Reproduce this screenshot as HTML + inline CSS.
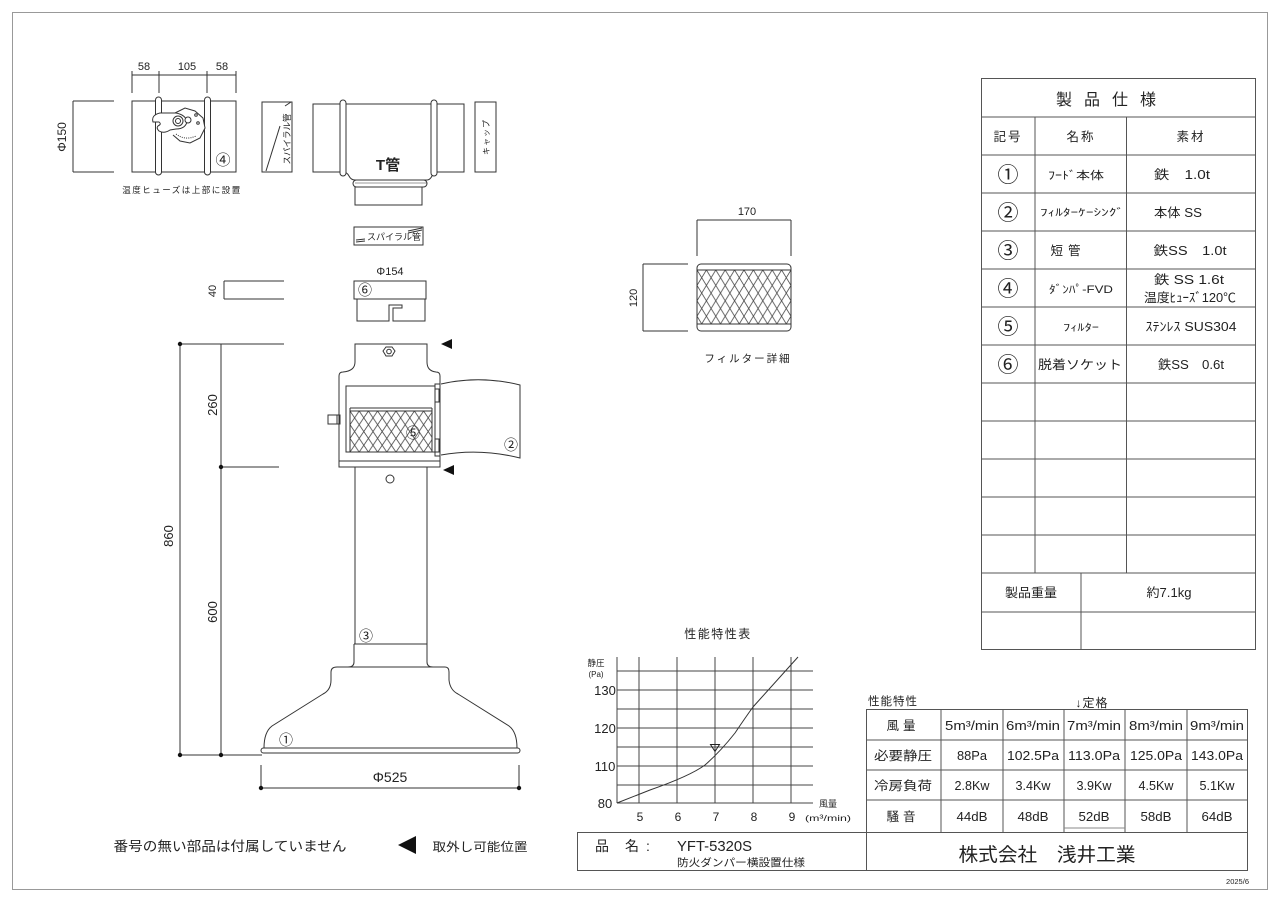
<!DOCTYPE html>
<html><head><meta charset="utf-8"><style>
html,body{margin:0;padding:0;background:#fff;}
svg{display:block;}
text{font-family:"Liberation Sans","Noto Sans CJK JP",sans-serif;fill:#222;}
</style></head><body>
<svg width="1280" height="904" viewBox="0 0 1280 904" xmlns="http://www.w3.org/2000/svg">
<defs>
<pattern id="h1" x="350" y="411" width="9.2" height="13.7" patternUnits="userSpaceOnUse">
<path d="M0,0 L9.2,13.7 M9.2,0 L0,13.7" stroke="#444" stroke-width="0.8" fill="none"/>
</pattern>
<pattern id="h2" x="697" y="270" width="9.4" height="15.4" patternUnits="userSpaceOnUse">
<path d="M0,0 L9.4,15.4 M9.4,0 L0,15.4" stroke="#444" stroke-width="0.8" fill="none"/>
</pattern>
</defs>
<rect x="0" y="0" width="1280" height="904" fill="#fff"/>
<rect x="12.5" y="12.5" width="1255" height="877" fill="none" stroke="#999" stroke-width="1"/>

<g stroke="#333" stroke-width="1" fill="none">
<line x1="132" y1="75" x2="236" y2="75"/>
<line x1="132" y1="71" x2="132" y2="93"/>
<line x1="159" y1="71" x2="159" y2="93"/>
<line x1="207" y1="71" x2="207" y2="93"/>
<line x1="236" y1="71" x2="236" y2="93"/>
<rect x="132" y="101" width="104" height="71" fill="#fff"/>
<rect x="155.5" y="97" width="6" height="78" rx="3" fill="#fff"/>
<rect x="204.5" y="97" width="6" height="78" rx="3" fill="#fff"/>
<path d="M175,113 L185,108 L195,111 L203,118 L205,128 L200,138 L190,143 L180,141 L173,135" fill="#fff"/>
<path d="M176,134 Q185,141 196,136" stroke-dasharray="1 1.2"/>
<path d="M153,122 Q151,115 160,113 L176,113 Q186,115 187,122 Q185,129 176,129 L170,130 Q164,134 159,131 Q156,128 158,126 Q162,124 159,122 Z" fill="#fff"/>
<circle cx="178" cy="121" r="5" fill="#fff"/>
<circle cx="178" cy="121" r="2.5"/>
<circle cx="188" cy="120" r="3" fill="#fff"/>
<circle cx="196" cy="115" r="1.3"/>
<circle cx="198" cy="123" r="1.3"/>
<line x1="73" y1="101" x2="114" y2="101"/>
<line x1="73" y1="172" x2="114" y2="172"/>
<line x1="73" y1="101" x2="73" y2="172"/>

<rect x="262" y="102" width="30" height="70"/>
<line x1="266" y1="171" x2="280" y2="126"/>
<line x1="285" y1="106" x2="291" y2="102"/>

<path d="M313,104 L464,104 L464,172 L437,172 Q433,172 432,176 Q430,180 427,180 L355,180 Q351,180 349,176 Q347,172 343,172 L313,172 Z" fill="#fff"/>
<rect x="340" y="100" width="6" height="76" rx="3" fill="#fff"/>
<rect x="431" y="100" width="6" height="76" rx="3" fill="#fff"/>
<rect x="353" y="180" width="74" height="7" rx="3.5" fill="#fff"/>
<rect x="355" y="187" width="67" height="18" fill="#fff"/>
<line x1="355" y1="183" x2="427" y2="183" stroke-width="0.6"/>
<rect x="475" y="102" width="21" height="70"/>

<rect x="354" y="227" width="69" height="18"/>
<line x1="356" y1="240" x2="365" y2="239"/>
<line x1="356" y1="242" x2="365" y2="241"/>
<line x1="408" y1="231" x2="422" y2="228"/>
<line x1="408" y1="233" x2="422" y2="230"/>

<rect x="354" y="281" width="72" height="18"/>
<path d="M357,299 L357,321 L389,321 L389,305 L402,305 L402,308 L393,308 L393,321 L425,321 L425,299"/>
<line x1="224" y1="281" x2="284" y2="281"/>
<line x1="224" y1="299" x2="284" y2="299"/>
<line x1="224" y1="281" x2="224" y2="299"/>

<path d="M355,344 L427,344 L427,362 Q427,371 436,372 Q440,372 440,376 L440,467 L339,467 L339,376 Q339,372 343,372 Q355,371 355,362 Z" fill="#fff"/>
<line x1="339" y1="461" x2="440" y2="461"/>
<rect x="346" y="386" width="89" height="66"/>
<rect x="350" y="411" width="82" height="41" fill="url(#h1)"/>
<line x1="350" y1="408" x2="432" y2="408"/>
<line x1="350" y1="408" x2="350" y2="411"/>
<line x1="432" y1="408" x2="432" y2="411"/>
<rect x="435" y="384" width="5" height="72"/>
<rect x="435" y="389" width="4" height="13"/>
<rect x="435" y="439" width="4" height="13"/>
<rect x="328" y="415" width="12" height="9"/>
<line x1="337" y1="415" x2="337" y2="424"/>
<path d="M441,384 Q480,375 520,385 L520,458 Q480,448 441,455"/>
<polygon points="386,347 392,347 395,351 392,356 386,356 383,351"/>
<circle cx="389" cy="351.5" r="2.3"/>
<line x1="355" y1="467" x2="355" y2="644"/>
<line x1="427" y1="467" x2="427" y2="644"/>
<circle cx="390" cy="479" r="4"/>
<line x1="354" y1="644" x2="427" y2="644"/>
<path d="M354,644 L354,662 Q354,667 348,667 M427,644 L427,662 Q427,667 433,667"/>
<path d="M337,667 L445,667 Q449,667 449,672 L449,680 Q450,690 458,694 L509,726 Q517,732 517,748 L264,748 Q264,732 272,726 L323,694 Q331,690 331,680 L331,672 Q331,667 337,667 Z" fill="#fff"/>
<rect x="261" y="748" width="259" height="5" rx="2.5" fill="#fff"/>

<line x1="180" y1="344" x2="180" y2="755"/>
<line x1="180" y1="344" x2="284" y2="344"/>
<line x1="221" y1="344" x2="221" y2="755"/>
<line x1="221" y1="467" x2="279" y2="467"/>
<line x1="180" y1="755" x2="262" y2="755"/>
<line x1="261" y1="765" x2="261" y2="789"/>
<line x1="519" y1="765" x2="519" y2="789"/>
<line x1="261" y1="788" x2="519" y2="788"/>

<line x1="697" y1="220" x2="791" y2="220"/>
<line x1="697" y1="220" x2="697" y2="256"/>
<line x1="791" y1="220" x2="791" y2="256"/>
<rect x="697" y="264" width="94" height="67" rx="4" fill="#fff"/>
<rect x="697" y="270" width="94" height="54" fill="url(#h2)"/>
<line x1="697" y1="270" x2="791" y2="270"/>
<line x1="697" y1="324" x2="791" y2="324"/>
<line x1="643" y1="264" x2="688" y2="264"/>
<line x1="643" y1="331" x2="688" y2="331"/>
<line x1="643" y1="264" x2="643" y2="331"/>
</g>

<g fill="#111">
<circle cx="180" cy="344" r="2.2"/>
<circle cx="221" cy="467" r="2.2"/>
<circle cx="180" cy="755" r="2.2"/>
<circle cx="221" cy="755" r="2.2"/>
<circle cx="261" cy="788" r="2.2"/>
<circle cx="519" cy="788" r="2.2"/>
<polygon points="441,344 452,339 452,349"/>
<polygon points="443,470 454,465 454,475"/>
<polygon points="398,845 416,836 416,854"/>
</g>

<g font-size="11">
<text x="144" y="70" text-anchor="middle">58</text>
<text x="187" y="70" text-anchor="middle">105</text>
<text x="222" y="70" text-anchor="middle">58</text>
<text transform="translate(66,137) rotate(-90)" text-anchor="middle" font-size="12">Φ150</text>
<text x="223" y="165" text-anchor="middle" font-size="15">④</text>
<text x="182" y="193" text-anchor="middle" font-size="8.5" letter-spacing="1.5">温度ヒューズは上部に設置</text>
<text transform="translate(290,139) rotate(-90)" text-anchor="middle" font-size="8.5">スパイラル管</text>
<text x="388" y="170" text-anchor="middle" font-size="15" font-weight="bold">T管</text>
<text transform="translate(489,137) rotate(-90)" text-anchor="middle" font-size="8" letter-spacing="1">キャップ</text>
<text x="394" y="240" text-anchor="middle" font-size="9">スパイラル管</text>
<text x="390" y="275" text-anchor="middle" font-size="11">Φ154</text>
<text x="365" y="295" text-anchor="middle" font-size="14">⑥</text>
<text transform="translate(216,291) rotate(-90)" text-anchor="middle" font-size="11">40</text>
<text transform="translate(217,405) rotate(-90)" text-anchor="middle" font-size="13">260</text>
<text transform="translate(173,536) rotate(-90)" text-anchor="middle" font-size="13">860</text>
<text transform="translate(217,612) rotate(-90)" text-anchor="middle" font-size="13">600</text>
<text x="413" y="438" text-anchor="middle" font-size="14">⑤</text>
<text x="511" y="450" text-anchor="middle" font-size="14">②</text>
<text x="366" y="641" text-anchor="middle" font-size="14">③</text>
<text x="286" y="745" text-anchor="middle" font-size="14">①</text>
<text x="390" y="782" text-anchor="middle" font-size="14">Φ525</text>
<text x="747" y="215" text-anchor="middle" font-size="11">170</text>
<text transform="translate(637,298) rotate(-90)" text-anchor="middle" font-size="11">120</text>
<text x="748" y="362" text-anchor="middle" font-size="10.5" letter-spacing="2">フィルター詳細</text>
<text x="230" y="851" text-anchor="middle" font-size="13.5" textLength="233" lengthAdjust="spacingAndGlyphs">番号の無い部品は付属していません</text>
<text x="480" y="851" text-anchor="middle" font-size="12" textLength="95" lengthAdjust="spacingAndGlyphs">取外し可能位置</text>
</g>

<g stroke="#555" stroke-width="1" fill="none">
<rect x="981.5" y="78.5" width="274" height="571"/>
<line x1="981.5" y1="117" x2="1255.5" y2="117"/>
<line x1="981.5" y1="155" x2="1255.5" y2="155"/>
<line x1="981.5" y1="193" x2="1255.5" y2="193"/>
<line x1="981.5" y1="231" x2="1255.5" y2="231"/>
<line x1="981.5" y1="269" x2="1255.5" y2="269"/>
<line x1="981.5" y1="307" x2="1255.5" y2="307"/>
<line x1="981.5" y1="345" x2="1255.5" y2="345"/>
<line x1="981.5" y1="383" x2="1255.5" y2="383"/>
<line x1="981.5" y1="421" x2="1255.5" y2="421"/>
<line x1="981.5" y1="459" x2="1255.5" y2="459"/>
<line x1="981.5" y1="497" x2="1255.5" y2="497"/>
<line x1="981.5" y1="535" x2="1255.5" y2="535"/>
<line x1="981.5" y1="573" x2="1255.5" y2="573"/>
<line x1="981.5" y1="612" x2="1255.5" y2="612"/>
<line x1="1035" y1="117" x2="1035" y2="573"/>
<line x1="1126.5" y1="117" x2="1126.5" y2="573"/>
<line x1="1081" y1="573" x2="1081" y2="650"/>
</g>
<g font-size="12.5" text-anchor="middle">
<text x="1112" y="105" font-size="16" letter-spacing="12">製品仕様</text>
<text x="1008" y="141" letter-spacing="2">記号</text>
<text x="1081" y="141" letter-spacing="2">名称</text>
<text x="1191" y="141" letter-spacing="2">素材</text>
<text x="1008" y="182" font-size="21">①</text>
<text x="1008" y="220" font-size="21">②</text>
<text x="1008" y="258" font-size="21">③</text>
<text x="1008" y="296" font-size="21">④</text>
<text x="1008" y="334" font-size="21">⑤</text>
<text x="1008" y="372" font-size="21">⑥</text>
<text x="1076" y="179" font-size="11" textLength="56" lengthAdjust="spacingAndGlyphs">ﾌｰﾄﾞ本体</text>
<text x="1082" y="216" font-size="10" textLength="84" lengthAdjust="spacingAndGlyphs">ﾌｨﾙﾀｰｹｰｼﾝｸﾞ</text>
<text x="1068" y="255" letter-spacing="5">短管</text>
<text x="1081" y="293" font-size="11" textLength="64" lengthAdjust="spacingAndGlyphs">ﾀﾞﾝﾊﾟ-FVD</text>
<text x="1081" y="331" font-size="10" textLength="36" lengthAdjust="spacingAndGlyphs">ﾌｨﾙﾀｰ</text>
<text x="1080" y="369" textLength="84" lengthAdjust="spacingAndGlyphs">脱着ソケット</text>
<text x="1182" y="179" textLength="56" lengthAdjust="spacingAndGlyphs">鉄　1.0t</text>
<text x="1178" y="217" textLength="48" lengthAdjust="spacingAndGlyphs">本体 SS</text>
<text x="1190" y="255" textLength="73" lengthAdjust="spacingAndGlyphs">鉄SS　1.0t</text>
<text x="1189" y="284" textLength="70" lengthAdjust="spacingAndGlyphs">鉄 SS 1.6t</text>
<text x="1190" y="302" textLength="92" lengthAdjust="spacingAndGlyphs">温度ﾋｭｰｽﾞ120℃</text>
<text x="1191" y="331" textLength="91" lengthAdjust="spacingAndGlyphs">ｽﾃﾝﾚｽ SUS304</text>
<text x="1191" y="369" textLength="66" lengthAdjust="spacingAndGlyphs">鉄SS　0.6t</text>
<text x="1031" y="597" textLength="52" lengthAdjust="spacingAndGlyphs">製品重量</text>
<text x="1169" y="597" textLength="45" lengthAdjust="spacingAndGlyphs">約7.1kg</text>
</g>

<g stroke="#444" stroke-width="1" fill="none">
<line x1="617" y1="671" x2="813" y2="671"/>
<line x1="617" y1="690" x2="813" y2="690"/>
<line x1="617" y1="709" x2="813" y2="709"/>
<line x1="617" y1="728" x2="813" y2="728"/>
<line x1="617" y1="747" x2="813" y2="747"/>
<line x1="617" y1="766" x2="813" y2="766"/>
<line x1="617" y1="785" x2="813" y2="785"/>
<line x1="617" y1="803" x2="813" y2="803"/>
<line x1="617" y1="657" x2="617" y2="803"/>
<line x1="639" y1="657" x2="639" y2="803"/>
<line x1="677" y1="657" x2="677" y2="803"/>
<line x1="715" y1="657" x2="715" y2="803"/>
<line x1="753" y1="657" x2="753" y2="803"/>
<line x1="791" y1="657" x2="791" y2="803"/>
<path d="M617,803 L650,790 Q690,776 705,765 Q720,752 735,733 Q745,718 753,707 L798,657" stroke="#333"/>
<path d="M710.5,744.5 L719.5,744.5 L715,751.5 Z" stroke="#222"/>
</g>
<g text-anchor="middle">
<text x="718" y="638" font-size="12" letter-spacing="1.5">性能特性表</text>
<text x="596" y="666" font-size="8.5">静圧</text>
<text x="596" y="677" font-size="8">(Pa)</text>
<text x="605" y="695" font-size="13">130</text>
<text x="605" y="733" font-size="13">120</text>
<text x="605" y="771" font-size="13">110</text>
<text x="605" y="808" font-size="13">80</text>
<text x="640" y="821" font-size="12">5</text>
<text x="678" y="821" font-size="12">6</text>
<text x="716" y="821" font-size="12">7</text>
<text x="754" y="821" font-size="12">8</text>
<text x="792" y="821" font-size="12">9</text>
<text x="828" y="807" font-size="9">風量</text>
<text x="828" y="821" font-size="8.5" textLength="46" lengthAdjust="spacingAndGlyphs">(m³/min)</text>
</g>

<g stroke="#555" stroke-width="1" fill="none">
<rect x="866.5" y="709.5" width="381" height="123"/>
<line x1="866.5" y1="740" x2="1247.5" y2="740"/>
<line x1="866.5" y1="770" x2="1247.5" y2="770"/>
<line x1="866.5" y1="800" x2="1247.5" y2="800"/>
<line x1="941" y1="709.5" x2="941" y2="832"/>
<line x1="1003" y1="709.5" x2="1003" y2="832"/>
<line x1="1064" y1="709.5" x2="1064" y2="832"/>
<line x1="1125" y1="709.5" x2="1125" y2="832"/>
<line x1="1187" y1="709.5" x2="1187" y2="832"/>
<line x1="1064" y1="828" x2="1125" y2="828" stroke="#888"/>
<rect x="577.5" y="832.5" width="670" height="38"/>
<line x1="866.5" y1="832.5" x2="866.5" y2="870.5"/>
</g>
<g font-size="12.5" text-anchor="middle">
<text x="893" y="705" text-anchor="middle" font-size="11.5" letter-spacing="1">性能特性</text>
<text x="1092" y="707" font-size="12" letter-spacing="1">↓定格</text>
<text x="903" y="730" letter-spacing="4">風量</text>
<text x="903" y="760" textLength="58" lengthAdjust="spacingAndGlyphs">必要静圧</text>
<text x="903" y="790" textLength="58" lengthAdjust="spacingAndGlyphs">冷房負荷</text>
<text x="903" y="821" letter-spacing="4">騒音</text>
<text x="972" y="730" textLength="54" lengthAdjust="spacingAndGlyphs">5m³/min</text>
<text x="1033" y="730" textLength="54" lengthAdjust="spacingAndGlyphs">6m³/min</text>
<text x="1094" y="730" textLength="54" lengthAdjust="spacingAndGlyphs">7m³/min</text>
<text x="1156" y="730" textLength="54" lengthAdjust="spacingAndGlyphs">8m³/min</text>
<text x="1217" y="730" textLength="54" lengthAdjust="spacingAndGlyphs">9m³/min</text>
<text x="972" y="760" textLength="30" lengthAdjust="spacingAndGlyphs">88Pa</text>
<text x="1033" y="760" textLength="52" lengthAdjust="spacingAndGlyphs">102.5Pa</text>
<text x="1094" y="760" textLength="52" lengthAdjust="spacingAndGlyphs">113.0Pa</text>
<text x="1156" y="760" textLength="52" lengthAdjust="spacingAndGlyphs">125.0Pa</text>
<text x="1217" y="760" textLength="52" lengthAdjust="spacingAndGlyphs">143.0Pa</text>
<text x="972" y="790" textLength="35" lengthAdjust="spacingAndGlyphs">2.8Kw</text>
<text x="1033" y="790" textLength="35" lengthAdjust="spacingAndGlyphs">3.4Kw</text>
<text x="1094" y="790" textLength="35" lengthAdjust="spacingAndGlyphs">3.9Kw</text>
<text x="1156" y="790" textLength="35" lengthAdjust="spacingAndGlyphs">4.5Kw</text>
<text x="1217" y="790" textLength="35" lengthAdjust="spacingAndGlyphs">5.1Kw</text>
<text x="972" y="821" textLength="31" lengthAdjust="spacingAndGlyphs">44dB</text>
<text x="1033" y="821" textLength="31" lengthAdjust="spacingAndGlyphs">48dB</text>
<text x="1094" y="821" textLength="31" lengthAdjust="spacingAndGlyphs">52dB</text>
<text x="1156" y="821" textLength="31" lengthAdjust="spacingAndGlyphs">58dB</text>
<text x="1217" y="821" textLength="31" lengthAdjust="spacingAndGlyphs">64dB</text>
</g>
<g>
<text x="595" y="851" font-size="14">品</text>
<text x="625" y="851" font-size="14">名</text>
<text x="646" y="851" font-size="14">:</text>
<text x="677" y="851" font-size="15" textLength="75" lengthAdjust="spacingAndGlyphs">YFT-5320S</text>
<text x="677" y="866" font-size="10.5" textLength="128" lengthAdjust="spacingAndGlyphs">防火ダンパー横設置仕様</text>
<text x="1047" y="861" font-size="19" text-anchor="middle" textLength="177" lengthAdjust="spacingAndGlyphs">株式会社　浅井工業</text>
<text x="1249" y="884" font-size="7.5" text-anchor="end">2025/6</text>
</g>
</svg>
</body></html>
